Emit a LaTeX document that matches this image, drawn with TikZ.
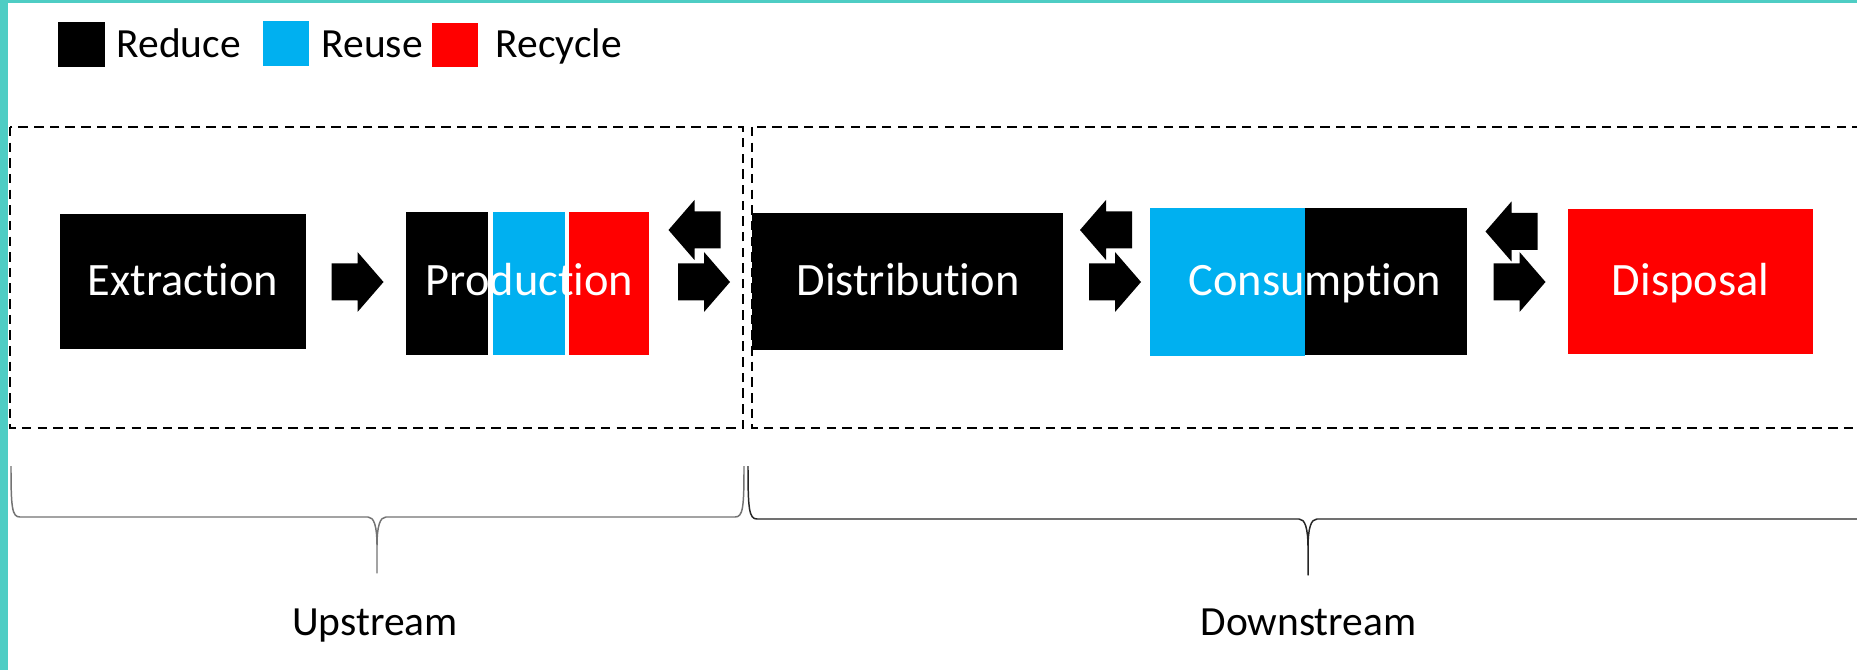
\documentclass[tikz,border=0pt]{standalone}
\usepackage{fontspec}
\setmainfont{Carlito}[Ligatures=NoCommon]
\definecolor{frameteal}{RGB}{78,205,196}
\definecolor{reuseblue}{RGB}{0,176,240}
\definecolor{recyclered}{RGB}{255,0,0}

\tikzset{
  stage/.style={inner sep=0pt, outer sep=0pt, draw=none, rectangle},
  stagetext/.style={text=white, font=\fontsize{13.2}{16}\selectfont, inner sep=0pt, anchor=base},
  caption/.style={text=black, font=\fontsize{11.8}{14}\selectfont, inner sep=0pt, anchor=base},
  keytext/.style={caption, anchor=base west},
  zone/.style={draw=black, line width=0.66pt, dash pattern=on 2.7pt off 1.75pt},
  bracepath/.style={line width=0.42pt, line join=round},
  pics/flowarrow/.style={code={
    \fill[black] (-26,-18.5) -- (0,-18.5) -- (0,-30) -- (26,0) -- (0,30) -- (0,18.5) -- (-26,18.5) -- cycle;
  }}
}

\begin{document}
\begin{tikzpicture}[x=0.01cm, y=-0.01cm]
  \useasboundingbox (0,0) rectangle (1857,670);
  \clip (0,0) rectangle (1857,670);
  \fill[white] (0,0) rectangle (1857,670);

  % frame strips
  \fill[frameteal] (0,0) rectangle (8,670);
  \fill[frameteal] (0,0) rectangle (1857,3);

  % legend
  \node[stage, fill=black,      minimum width=0.47cm, minimum height=0.45cm] (keyreduce)  at (81.5,44.5) {};
  \node[stage, fill=reuseblue,  minimum width=0.46cm, minimum height=0.45cm] (keyreuse)   at (286,43.5) {};
  \node[stage, fill=recyclered, minimum width=0.46cm, minimum height=0.44cm] (keyrecycle) at (455,45) {};
  \node[keytext] (lblreduce)  at (116,58) {Reduce};
  \node[keytext] (lblreuse)   at (321,58) {Reuse};
  \node[keytext] (lblrecycle) at (495,58) {Recycle};

  % upstream / downstream zones
  \draw[zone] (10,127) rectangle (743,428);
  \draw[zone] (752,127) rectangle (1890,428);

  % stages
  \node[stage, fill=black, minimum width=2.46cm, minimum height=1.35cm] (extraction) at (183,281.5) {};

  \node[stage, fill=black,      minimum width=0.82cm, minimum height=1.43cm] (prodreduce)  at (447,283.5) {};
  \node[stage, fill=reuseblue,  minimum width=0.72cm, minimum height=1.43cm] (prodreuse)   at (529,283.5) {};
  \node[stage, fill=recyclered, minimum width=0.80cm, minimum height=1.43cm] (prodrecycle) at (609,283.5) {};

  \node[stage, fill=black, minimum width=3.11cm, minimum height=1.37cm] (distribution) at (907.5,281.5) {};

  \node[stage, fill=reuseblue, minimum width=1.55cm, minimum height=1.48cm] (consreuse)  at (1227.5,282) {};
  \node[stage, fill=black,     minimum width=1.62cm, minimum height=1.47cm] (consreduce) at (1386,281.5) {};

  \node[stage, fill=recyclered, minimum width=2.45cm, minimum height=1.45cm] (disposal) at (1690.5,281.5) {};

  % stage labels
  \node[stagetext] (txtextraction)   at (183,296)    {Extraction};
  \node[stagetext] (txtproduction)   at (529.5,296)  {Production};
  \node[stagetext] (txtdistribution) at (908,296)    {Distribution};
  \node[stagetext] (txtconsumption)  at (1315,296)   {Consumption};
  \node[stagetext] (txtdisposal)     at (1690.5,296) {Disposal};

  % block arrows between stages
  \pic at (357.5,282) {flowarrow};
  \pic at (704,282) {flowarrow};
  \pic[rotate=180] at (694.5,230) {flowarrow};
  \pic at (1115,282) {flowarrow};
  \pic[rotate=180] at (1106,230) {flowarrow};
  \pic at (1519.5,282) {flowarrow};
  \pic[rotate=180] at (1511.5,231.5) {flowarrow};

  % braces
  \draw[bracepath, black!55]
    (11,466) .. controls (11,508) and (12,517) .. (20,517) -- (368,517)
    .. controls (374,517) and (377,526) .. (377,546) -- (377,573) -- (377,546)
    .. controls (377,526) and (380,517) .. (386,517) -- (735,517)
    .. controls (743,517) and (744,508) .. (744,466);
  \draw[bracepath, black!85]
    (748,466) .. controls (748,509) and (749,519) .. (757,519) -- (1299,519)
    .. controls (1305,519) and (1308,528) .. (1308,548) -- (1308,575) -- (1308,548)
    .. controls (1308,528) and (1311,519) .. (1317,519) -- (1890,519);

  \node[caption] (upstream)   at (375,635)    {Upstream};
  \node[caption] (downstream) at (1308.5,635) {Downstream};
\end{tikzpicture}
\end{document}
